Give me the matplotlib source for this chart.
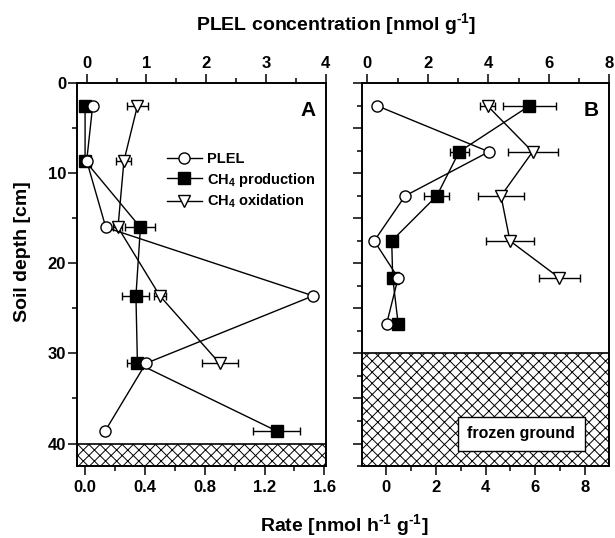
import matplotlib
matplotlib.use("Agg")
import matplotlib.pyplot as plt
from matplotlib.lines import Line2D
from matplotlib.ticker import MultipleLocator, FixedLocator

plt.rcParams["font.family"] = ["Liberation Sans", "DejaVu Sans"]
plt.rcParams["font.weight"] = "bold"
plt.rcParams["mathtext.fontset"] = "custom"
plt.rcParams["mathtext.rm"] = "Liberation Sans:bold"
plt.rcParams["mathtext.bf"] = "Liberation Sans:bold"
plt.rcParams["mathtext.default"] = "bf"
plt.rcParams["hatch.linewidth"] = 0.7

# panel A
depth_a = [2.5, 8.6, 16.0, 23.6, 31.1, 38.6]
plel_a = [0.10, 0.0, 0.32, 3.79, 0.99, 0.31]
prod_a = [0.0, 0.0, 0.37, 0.34, 0.35, 1.28]
prod_err_a = [0.0, 0.0, 0.10, 0.09, 0.07, 0.16]
oxid_depth_a = [2.5, 8.6, 16.0, 23.6, 31.1]
oxid_a = [0.35, 0.26, 0.22, 0.50, 0.90]
oxid_err_a = [0.07, 0.05, 0.03, 0.04, 0.12]
frozen_a = (40.0, 42.5)

# panel B
depth_b = [2.5, 7.6, 12.5, 17.5, 21.6, 26.7]
plel_b = [0.33, 4.02, 1.25, 0.23, 1.02, 0.64]
prod_b = [5.76, 2.94, 2.04, 0.23, 0.27, 0.49]
prod_err_b = [1.06, 0.38, 0.51, 0.0, 0.0, 0.0]
oxid_depth_b = [2.5, 7.6, 12.5, 17.5, 21.6]
oxid_b = [4.08, 5.89, 4.62, 4.98, 6.96]
oxid_err_b = [0.30, 1.00, 0.92, 0.97, 0.82]
frozen_b = (30.0, 42.5)

fig = plt.figure(figsize=(6.15, 5.38), dpi=100)
ax_a = fig.add_axes([0.1257, 0.1338, 0.4039, 0.7113])
ax_b = fig.add_axes([0.5881, 0.1338, 0.4026, 0.7113])
top_a = ax_a.twiny()
top_b = ax_b.twiny()

mk = dict(color="black", lw=1.0, markersize=8, markeredgewidth=1.0,
          elinewidth=1.0, capsize=3, capthick=1.0, ecolor="black")


def draw_panel(ax, top, depth, plel, prod, prod_err, oxd, oxid, oxid_err, frozen):
    ax.axhspan(frozen[0], frozen[1], facecolor="white", edgecolor="black",
               hatch="xxx", lw=1.2, zorder=1)
    ax.errorbar(prod, depth, xerr=prod_err, marker="s", markerfacecolor="black",
                markeredgecolor="black", zorder=3, **mk)
    ax.errorbar(oxid, oxd, xerr=oxid_err, marker="v", markerfacecolor="white",
                markeredgecolor="black", zorder=3, **mk)
    top.plot(plel, depth, marker="o", color="black", lw=1.0, markersize=8,
             markerfacecolor="white", markeredgecolor="black", zorder=4)


draw_panel(ax_a, top_a, depth_a, plel_a, prod_a, prod_err_a,
           oxid_depth_a, oxid_a, oxid_err_a, frozen_a)
draw_panel(ax_b, top_b, depth_b, plel_b, prod_b, prod_err_b,
           oxid_depth_b, oxid_b, oxid_err_b, frozen_b)

for ax in (ax_a, ax_b, top_a, top_b):
    ax.set_ylim(42.5, 0)
    for s in ax.spines.values():
        s.set_linewidth(1.2)
    ax.tick_params(which="both", direction="out", width=1.1, labelsize=12)
    ax.tick_params(which="major", length=6.5)
    ax.tick_params(which="minor", length=3.5)

# panel A axes
ax_a.set_xlim(-0.052, 1.609)
ax_a.xaxis.set_major_locator(FixedLocator([0.0, 0.4, 0.8, 1.2, 1.6]))
ax_a.set_xticklabels(["0.0", "0.4", "0.8", "1.2", "1.6"])
ax_a.xaxis.set_minor_locator(MultipleLocator(0.2))
ax_a.yaxis.set_major_locator(MultipleLocator(10))
ax_a.yaxis.set_minor_locator(MultipleLocator(5))
ax_a.tick_params(axis="y", pad=1.5)
top_a.set_xlim(-0.157, 4.0)
top_a.xaxis.set_major_locator(MultipleLocator(1))
top_a.xaxis.set_minor_locator(MultipleLocator(0.5))
top_a.tick_params(axis="x", pad=2.5)

# panel B axes
ax_b.set_xlim(-0.976, 8.97)
ax_b.xaxis.set_major_locator(MultipleLocator(2))
ax_b.xaxis.set_minor_locator(MultipleLocator(1))
ax_b.yaxis.set_major_locator(MultipleLocator(5))
ax_b.yaxis.set_minor_locator(MultipleLocator(2.5))
ax_b.tick_params(axis="y", labelleft=False)
top_b.set_xlim(-0.185, 8.0)
top_b.xaxis.set_major_locator(MultipleLocator(2))
top_b.xaxis.set_minor_locator(MultipleLocator(1))
top_b.tick_params(axis="x", pad=2.5)

for ax in (top_a, top_b):
    ax.tick_params(axis="y", which="both", left=False, right=False, labelright=False)

ax_a.text(0.927, 0.93, "A", transform=ax_a.transAxes, fontsize=15,
          fontweight="bold", ha="center", va="center")
ax_b.text(0.926, 0.93, "B", transform=ax_b.transAxes, fontsize=15,
          fontweight="bold", ha="center", va="center")

ax_b.text(5.44, 38.9, "frozen ground", fontsize=11.5, fontweight="bold",
          ha="center", va="center", zorder=5,
          bbox=dict(boxstyle="square,pad=0.6", facecolor="white",
                    edgecolor="black", lw=1.0))

handles = [
    Line2D([], [], color="black", lw=1.0, marker="o", markersize=8,
           markerfacecolor="white", markeredgecolor="black"),
    Line2D([], [], color="black", lw=1.0, marker="s", markersize=8,
           markerfacecolor="black", markeredgecolor="black"),
    Line2D([], [], color="black", lw=1.0, marker="v", markersize=8,
           markerfacecolor="white", markeredgecolor="black"),
]
labels = ["PLEL", "CH$_4$ production", "CH$_4$ oxidation"]
top_a.legend(handles, labels, loc="upper left", bbox_to_anchor=(0.36, 0.82),
             frameon=False, handlelength=2.4, handletextpad=0.35,
             labelspacing=0.3, borderpad=0, borderaxespad=0,
             prop={"weight": "bold", "size": 10.5})

fig.text(0.547, 1 - 24 / 538, r"PLEL concentration [nmol g$^{\text{-}1}$]",
         fontsize=14, fontweight="bold", ha="center", va="center")
fig.text(0.559, 0.012, r"Rate [nmol h$^{\text{-}1}$ g$^{\text{-}1}$]",
         fontsize=14, fontweight="bold", ha="center", va="baseline")
fig.text(0.036, 1 - 252 / 538, "Soil depth [cm]", rotation=90,
         fontsize=14, fontweight="bold", ha="center", va="center")

fig.savefig("out.png", dpi=100)
